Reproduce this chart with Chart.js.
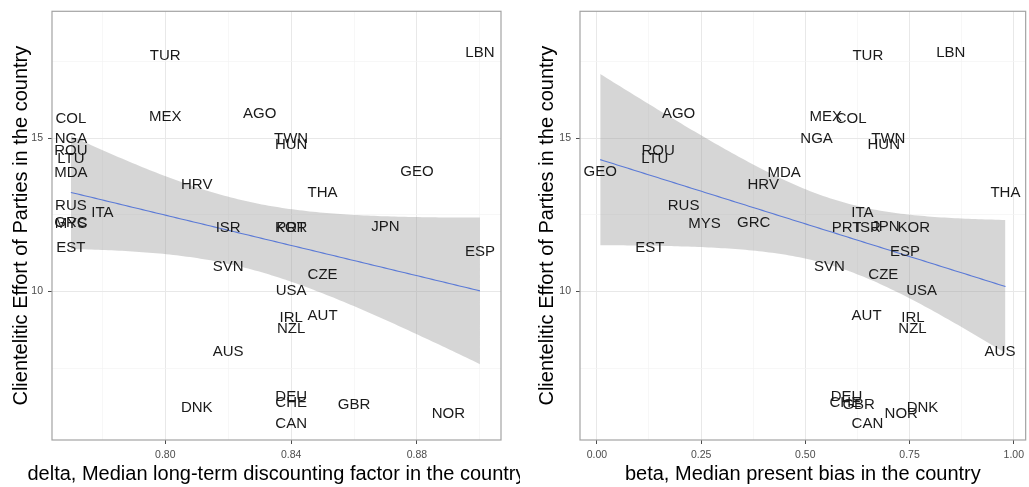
<!DOCTYPE html>
<html>
<head>
<meta charset="utf-8">
<script src="https://cdn.jsdelivr.net/npm/chart.js@4.4.1/dist/chart.umd.min.js"></script>
<style>
  html, body { margin: 0; padding: 0; background: #ffffff; overflow: hidden; }
  #wrap { position: relative; width: 1029px; height: 487px; }
  #c1 { position: absolute; left: 0; top: 0; }
  #c2 { position: absolute; left: 520px; top: 0; }
</style>
</head>
<body>
<div id="wrap">
  <canvas id="c1" width="520" height="487"></canvas>
  <canvas id="c2" width="509" height="487"></canvas>
</div>
<script>
// Country codes (ISO3) and their values
const countries = ['TUR','LBN','COL','MEX','AGO','NGA','TWN','HUN','ROU','LTU','MDA','GEO','HRV','THA','RUS','ITA','GRC','MYS','ISR','PRT','KOR','JPN','EST','ESP','SVN','CZE','USA','AUT','IRL','NZL','AUS','DEU','CHE','GBR','DNK','NOR','CAN'];

// Clientelitic effort of parties
const effort = [17.82,17.92,15.77,15.84,15.95,15.12,15.13,14.94,14.72,14.46,14.01,14.04,13.61,13.36,12.94,12.71,12.40,12.35,12.24,12.21,12.21,12.26,11.56,11.43,10.95,10.70,10.16,9.34,9.30,8.93,8.17,6.72,6.51,6.45,6.35,6.16,5.84];

// delta: median long-term discounting factor
const delta = [0.800,0.900,0.770,0.800,0.830,0.770,0.840,0.840,0.770,0.770,0.770,0.880,0.810,0.850,0.770,0.780,0.770,0.770,0.820,0.840,0.840,0.870,0.770,0.900,0.820,0.850,0.840,0.850,0.840,0.840,0.820,0.840,0.840,0.860,0.810,0.890,0.840];

// beta: median present bias
const beta = [0.650,0.849,0.610,0.549,0.196,0.527,0.699,0.688,0.147,0.139,0.449,0.008,0.399,0.980,0.208,0.637,0.376,0.258,0.651,0.599,0.760,0.692,0.127,0.739,0.558,0.687,0.779,0.647,0.758,0.757,0.967,0.599,0.596,0.628,0.781,0.730,0.649];

// Axis breaks: [value, label] (empty label = minor break)
const yBreaks = [[7.5,''],[10,'10'],[12.5,''],[15,'15'],[17.5,'']];
const deltaBreaks = [[0.78,''],[0.80,'0.80'],[0.82,''],[0.84,'0.84'],[0.86,''],[0.88,'0.88'],[0.90,'']];
const betaBreaks = [[0,'0.00'],[0.125,''],[0.25,'0.25'],[0.375,''],[0.5,'0.50'],[0.625,''],[0.75,'0.75'],[0.875,''],[1.0,'1.00']];

const yTitle = 'Clientelitic Effort of Parties in the country';
const deltaTitle = 'delta, Median long-term discounting factor in the country';
const betaTitle = 'beta, Median present bias in the country';

// 97.5% quantile of Student t with n-2 = 35 degrees of freedom
const T_CRIT = 2.0301;

// Ordinary least squares fit with a 95% confidence band
function linearFit(xs, ys, steps) {
  const n = xs.length;
  const mx = xs.reduce((a, b) => a + b, 0) / n;
  const my = ys.reduce((a, b) => a + b, 0) / n;
  let sxx = 0, sxy = 0;
  for (let i = 0; i < n; i++) { sxx += (xs[i] - mx) ** 2; sxy += (xs[i] - mx) * (ys[i] - my); }
  const b = sxy / sxx, a = my - b * mx;
  let sse = 0;
  for (let i = 0; i < n; i++) sse += (ys[i] - a - b * xs[i]) ** 2;
  const s = Math.sqrt(sse / (n - 2));
  const lo = Math.min(...xs), hi = Math.max(...xs);
  const line = [], upper = [], lower = [];
  for (let k = 0; k <= steps; k++) {
    const x = lo + (hi - lo) * k / steps;
    const yh = a + b * x;
    const se = s * Math.sqrt(1 / n + (x - mx) ** 2 / sxx);
    line.push({ x, y: yh });
    upper.push({ x, y: yh + T_CRIT * se });
    lower.push({ x, y: yh - T_CRIT * se });
  }
  return { line, upper, lower };
}

const FONT = '"Liberation Sans", Arial, Helvetica, sans-serif';
const LABEL_SIZE = 15;
const LABEL_DROP = 3.4;   // text box sits slightly below its anchor point

// Country codes written at each point
const codeLabels = {
  id: 'codeLabels',
  afterDatasetsDraw(chart) {
    const meta = chart.getDatasetMeta(3);
    const ctx = chart.ctx;
    ctx.save();
    ctx.font = LABEL_SIZE + 'px ' + FONT;
    ctx.fillStyle = '#1a1a1a';
    ctx.textAlign = 'center';
    ctx.textBaseline = 'alphabetic';
    const half = LABEL_SIZE * 0.716 / 2;
    meta.data.forEach((el, i) => ctx.fillText(countries[i], el.x, el.y + half + LABEL_DROP));
    ctx.restore();
  }
};

// Panel border around the plotting area
const panelFrame = {
  id: 'panelFrame',
  afterDraw(chart) {
    const { left, top, right, bottom } = chart.chartArea;
    const ctx = chart.ctx;
    ctx.save();
    ctx.strokeStyle = '#a3a3a3';
    ctx.lineWidth = 1.2;
    ctx.strokeRect(left, top, right - left, bottom - top);
    ctx.restore();
  }
};

// Horizontal axis title, centred under the panel (allowed to run past the panel edge)
const xAxisTitle = {
  id: 'xAxisTitle',
  afterDraw(chart, args, opts) {
    const { left, right } = chart.chartArea;
    const ctx = chart.ctx;
    ctx.save();
    ctx.font = '20px ' + FONT;
    ctx.fillStyle = '#000000';
    ctx.textAlign = 'center';
    ctx.textBaseline = 'alphabetic';
    ctx.fillText(opts.text, (left + right) / 2, 479.5);
    ctx.restore();
  }
};

function breakAxis(breaks, extra) {
  const labelOf = v => { const b = breaks.find(p => Math.abs(p[0] - v) < 1e-9); return b ? b[1] : ''; };
  const isMajor = ctx => ctx.tick && labelOf(ctx.tick.value) !== '';
  return Object.assign({
    type: 'linear',
    afterBuildTicks: s => { s.ticks = breaks.map(p => ({ value: p[0] })); },
    ticks: {
      autoSkip: false, maxRotation: 0, minRotation: 0,
      color: '#4d4d4d',
      font: { family: FONT, size: 10.5 },
      padding: 5,
      callback: v => labelOf(v)
    },
    grid: {
      color: ctx => isMajor(ctx) ? '#e8e8e8' : '#f4f4f4',
      lineWidth: ctx => isMajor(ctx) ? 1 : 0.7,
      tickColor: ctx => isMajor(ctx) ? '#4d4d4d' : 'rgba(0,0,0,0)',
      tickLength: 4,
      tickWidth: 1,
      drawTicks: true
    },
    border: { display: false }
  }, extra);
}

function makePanel(canvas, xs, xBreaks, xTitle, xRange, geom) {
  const fit = linearFit(xs, effort, 120);
  return new Chart(canvas, {
    type: 'scatter',
    data: {
      datasets: [
        { data: fit.lower, showLine: true, borderWidth: 0, borderColor: 'rgba(0,0,0,0)', pointRadius: 0, fill: false },
        { data: fit.upper, showLine: true, borderWidth: 0, borderColor: 'rgba(0,0,0,0)', pointRadius: 0,
          fill: '-1', backgroundColor: 'rgba(153,153,153,0.4)' },
        { data: fit.line, showLine: true, borderWidth: 1.1, borderColor: '#3366FF', pointRadius: 0, fill: false },
        { data: xs.map((x, i) => ({ x, y: effort[i] })), pointRadius: 0, pointHoverRadius: 0, showLine: false }
      ]
    },
    options: {
      responsive: false,
      animation: false,
      devicePixelRatio: 1,
      events: [],
      layout: { padding: { left: 0, right: geom.padRight, top: 7, bottom: 0 } },
      plugins: { legend: { display: false }, tooltip: { enabled: false }, xAxisTitle: { text: xTitle } },
      scales: {
        x: breakAxis(xBreaks, {
          min: xRange[0], max: xRange[1],
          afterFit: s => { s.height = 47; },
          title: { display: false }
        }),
        y: breakAxis(yBreaks, {
          min: 5.16, max: 19.13,
          afterFit: s => { s.width = geom.yWidth; },
          title: { display: true, text: yTitle, color: '#000000', font: { family: FONT, size: 20 }, padding: { top: geom.yTitlePad, bottom: 0 } }
        })
      }
    },
    plugins: [codeLabels, panelFrame, xAxisTitle]
  });
}

makePanel(document.getElementById('c1'), delta, deltaBreaks, deltaTitle, [0.7640, 0.9067],
  { padRight: 19, yWidth: 52, yTitlePad: 9.5 });
makePanel(document.getElementById('c2'), beta, betaBreaks, betaTitle, [-0.0405, 1.0285],
  { padRight: 0, yWidth: 60, yTitlePad: 15.5 });
</script>
</body>
</html>
